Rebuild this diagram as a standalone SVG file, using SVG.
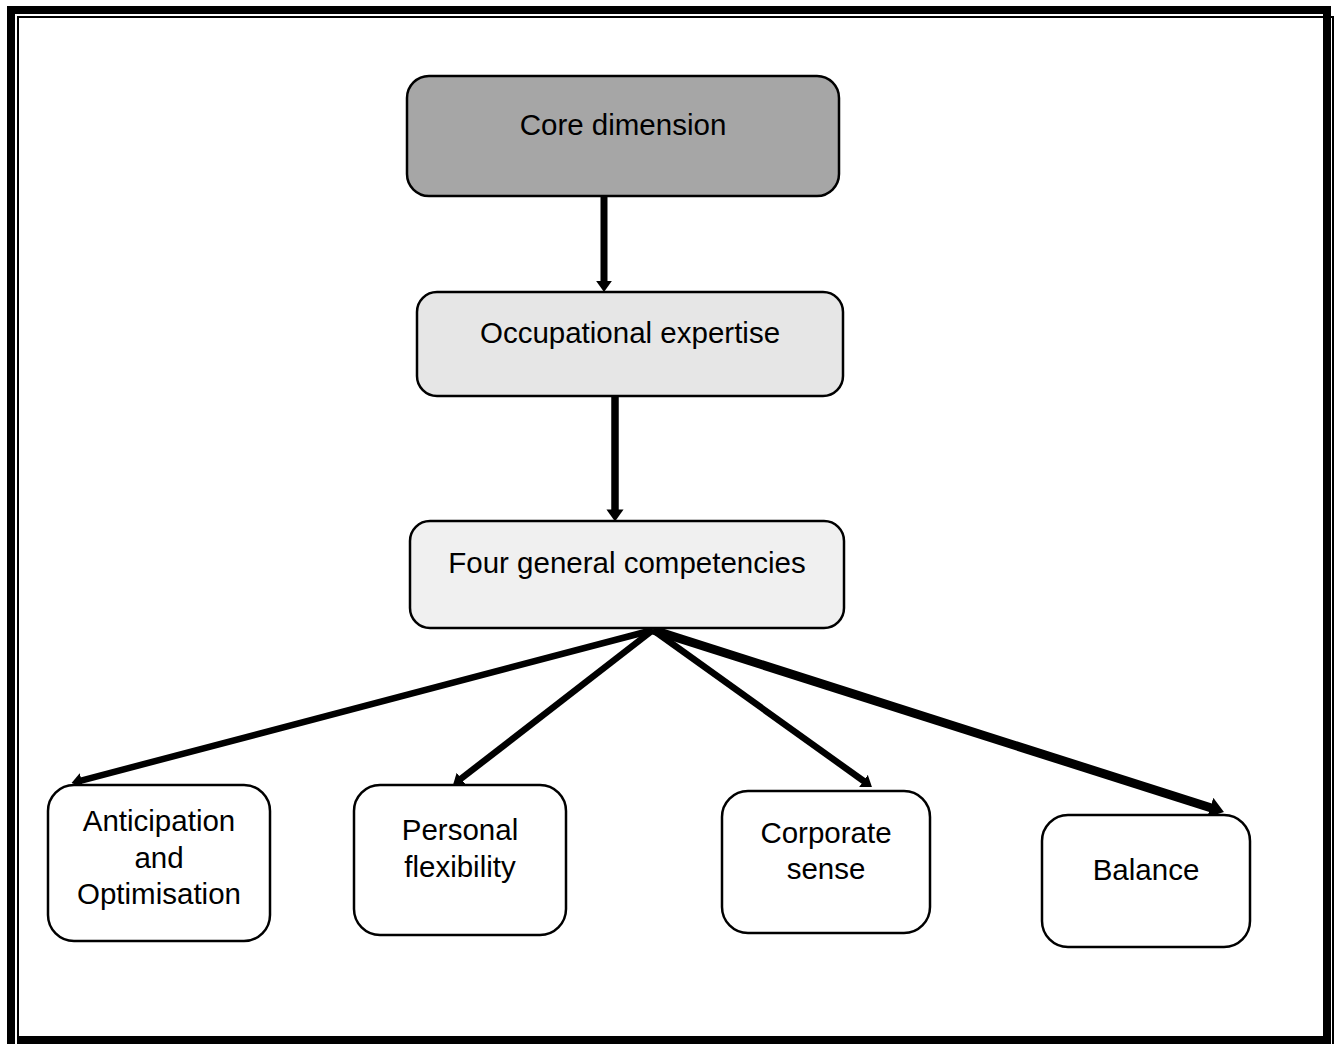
<svg xmlns="http://www.w3.org/2000/svg" width="1338" height="1044" viewBox="0 0 1338 1044">
<defs>
<style>
.node rect{stroke:#000;stroke-width:2.5}
.node text{font-family:"Liberation Sans",Arial,sans-serif;font-size:29.5px;fill:#000;text-anchor:middle}
.conn line{stroke:#000;stroke-linecap:butt;marker-end:url(#ah)}
</style>
<marker id="ah" viewBox="0 0 7 10" refX="3" refY="5" markerWidth="1.6" markerHeight="2.3" markerUnits="strokeWidth" orient="auto">
<path d="M0,0 L7,5 L0,10 z" fill="#000"/>
</marker>
</defs>
<rect width="1338" height="1044" fill="#fff"/>
<g id="page-border" fill="#000">
<rect x="7" y="6" width="1324" height="8"/>
<rect x="7" y="6" width="8" height="1038"/>
<rect x="1323" y="6" width="8" height="1038"/>
<rect x="17" y="1036" width="1314" height="8"/>
<rect x="17" y="16" width="1317" height="2"/>
<rect x="17" y="16" width="2" height="1028"/>
<rect x="1332" y="16" width="2" height="1028"/>
</g>
<g id="connectors" class="conn">
<line x1="604" y1="197" x2="604" y2="285.6" stroke-width="7"/>
<line x1="615" y1="397" x2="615" y2="514.6" stroke-width="7.5"/>
<line x1="653" y1="630" x2="77.3" y2="781.6" stroke-width="6.5"/>
<line x1="653" y1="630" x2="457.7" y2="781.3" stroke-width="6.5"/>
<line x1="653" y1="630" x2="867.1" y2="783.5" stroke-width="6.5"/>
<line x1="653" y1="630" x2="1216.1" y2="809.5" stroke-width="9"/>
</g>
<g id="core" class="node">
<rect x="407" y="76" width="432" height="120" rx="22" fill="#a6a6a6"/>
<text x="623" y="135">Core dimension</text>
</g>
<g id="occupational" class="node">
<rect x="417" y="292" width="426" height="104" rx="20" fill="#e6e6e6"/>
<text x="630" y="343">Occupational expertise</text>
</g>
<g id="four" class="node">
<rect x="410" y="521" width="434" height="107" rx="20" fill="#f0f0f0"/>
<text x="627" y="573">Four general competencies</text>
</g>
<g id="anticipation" class="node">
<rect x="48" y="785" width="222" height="156" rx="26" fill="#fff"/>
<text x="159" y="831">Anticipation</text>
<text x="159" y="868">and</text>
<text x="159" y="904">Optimisation</text>
</g>
<g id="personal" class="node">
<rect x="354" y="785" width="212" height="150" rx="26" fill="#fff"/>
<text x="460" y="840">Personal</text>
<text x="460" y="877">flexibility</text>
</g>
<g id="corporate" class="node">
<rect x="722" y="791" width="208" height="142" rx="26" fill="#fff"/>
<text x="826" y="843">Corporate</text>
<text x="826" y="879">sense</text>
</g>
<g id="balance" class="node">
<rect x="1042" y="815" width="208" height="132" rx="26" fill="#fff"/>
<text x="1146" y="880">Balance</text>
</g>
</svg>
